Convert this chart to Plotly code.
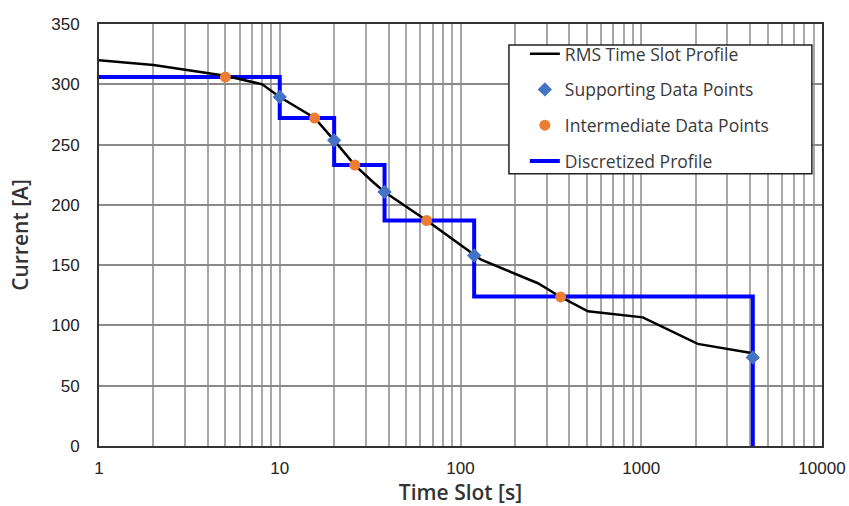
import plotly.graph_objects as go

# RMS time slot profile (black line)
rms_time = [1, 2, 5, 8, 10, 15.6, 20, 26, 32.8, 38, 65, 119, 130, 268, 358, 507, 1020, 2055, 4140]
rms_current = [320, 316, 307, 300, 289.5, 272, 253.5, 233, 219, 210.7, 187, 158, 154.5, 135, 123.6, 111.7, 106.7, 84.7, 77]

# Supporting data points (blue diamonds)
sup_time = [10, 20, 38, 119, 4140]
sup_current = [289.5, 253.5, 210.7, 158, 73.5]

# Intermediate data points (orange circles)
int_time = [5, 15.6, 26, 65, 358]
int_current = [306, 272, 233, 187, 123.6]

# Discretized profile (blue step line): step edges and levels
disc_time = [1, 10, 20, 38, 119, 4140]
disc_current = [306, 272, 233, 187, 124, 0]

x_ticks = [1, 10, 100, 1000, 10000]
x_tick_text = ["1", "10", "100", "1000", "10000"]
y_ticks = [0, 50, 100, 150, 200, 250, 300, 350]

minor_vals = [m * 10 ** d for d in range(4) for m in range(2, 10)]

fig = go.Figure()
fig.add_trace(go.Scatter(
    x=disc_time, y=disc_current, mode="lines", line_shape="hv",
    line=dict(color="#0000FF", width=4), name="Discretized Profile",
    legendrank=4, legendgroup="d"))
fig.add_trace(go.Scatter(
    x=rms_time, y=rms_current, mode="lines",
    line=dict(color="#000000", width=2.5), name="RMS Time Slot Profile",
    legendrank=1, legendgroup="a"))
fig.add_trace(go.Scatter(
    x=sup_time, y=sup_current, mode="markers",
    marker=dict(symbol="diamond", color="#4472C4", size=11),
    name="Supporting Data Points", legendrank=2, legendgroup="b"))
fig.add_trace(go.Scatter(
    x=int_time, y=int_current, mode="markers",
    marker=dict(symbol="circle", color="#ED7D31", size=11),
    name="Intermediate Data Points", legendrank=3, legendgroup="c"))

# legend frame (white box with dark border)
fig.add_shape(type="rect", xref="paper", yref="paper",
              x0=0.567, x1=0.986, y0=0.645, y1=0.950,
              fillcolor="white", line=dict(color="#222222", width=1.5), layer="above")

fig.update_layout(
    width=849, height=506,
    margin=dict(l=99, r=27, t=24, b=60),
    paper_bgcolor="white", plot_bgcolor="white",
    font=dict(family="Open Sans", color="#333333", size=14),
    showlegend=True,
    legend=dict(
        x=0.589, y=0.972, xanchor="left", yanchor="top",
        bgcolor="rgba(0,0,0,0)", borderwidth=0,
        font=dict(family="Open Sans", size=17.5, color="#3a3a3a"),
        tracegroupgap=10, traceorder="grouped",
    ),
)
fig.update_xaxes(
    type="log", range=[0, 4], automargin=False,
    tickvals=x_ticks, ticktext=x_tick_text,
    tickfont=dict(family="Liberation Sans", size=17, color="#222222"),
    ticklabelstandoff=6,
    showgrid=True, gridcolor="#a8a8a8", gridwidth=1.5,
    minor=dict(tickvals=minor_vals, showgrid=True, gridcolor="#a8a8a8", gridwidth=1.5, ticklen=0),
    showline=True, linecolor="#333333", linewidth=2, mirror=True,
    ticks="", zeroline=False,
    title=dict(text="Time Slot [s]", font=dict(family="Open Sans", size=21, weight=600, color="#333333"), standoff=7),
)
fig.update_yaxes(
    range=[0, 350], tickvals=y_ticks, automargin=False,
    tickfont=dict(family="Liberation Sans", size=17, color="#222222"),
    ticklabelstandoff=14,
    showgrid=True, gridcolor="#8a8a8a", gridwidth=1.5,
    showline=True, linecolor="#333333", linewidth=2, mirror=True,
    ticks="", zeroline=False,
    title=dict(text="Current [A]", font=dict(family="Open Sans", size=21, weight=600, color="#333333"), standoff=17),
)

fig.write_html("out.html", config={"displayModeBar": False},
               post_script="document.body.style.margin='0';document.body.style.overflow='hidden';")
